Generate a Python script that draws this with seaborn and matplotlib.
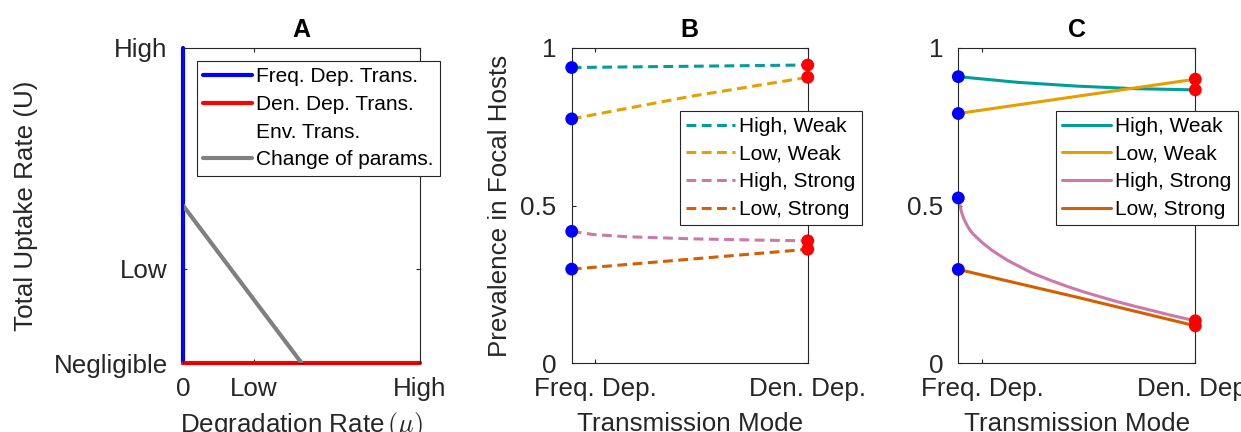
import matplotlib
matplotlib.use('Agg')
import matplotlib.pyplot as plt
from matplotlib.lines import Line2D
import seaborn as sns

# Panel A: uptake rate vs degradation rate (schematic)
freq_x = [0, 0]
freq_y = [0, 1]
den_x = [0, 1]
den_y = [0, 0]
change_x = [0, 0.5]
change_y = [0.5, 0]
a_labels = ['Freq. Dep. Trans.', 'Den. Dep. Trans.', 'Env. Trans.', 'Change of params.']
a_xticks = [0, 0.3, 1]
a_xticklabels = ['0', 'Low', 'High']
a_yticks = [0, 0.3, 1]
a_yticklabels = ['Negligible', 'Low', 'High']

# Panels B and C: prevalence across transmission modes
series_names = ['High, Weak', 'Low, Weak', 'High, Strong', 'Low, Strong']
series_colors = ['#009E99', '#E69F00', '#CC79A7', '#D55E00']
mode_ticks = [0.1, 1]
mode_labels = ['Freq. Dep.', 'Den. Dep.']
prev_ticks = [0, 0.5, 1]
prev_ticklabels = ['0', '0.5', '1']

# panel B (dashed)
b_x_high_weak = [0, 1]
b_y_high_weak = [0.938, 0.946]
b_x_low_weak = [0, 0.5, 1]
b_y_low_weak = [0.775, 0.846, 0.907]
b_x_high_strong = [0, 0.09, 0.23, 0.52, 0.8, 1]
b_y_high_strong = [0.418, 0.408, 0.401, 0.394, 0.390, 0.388]
b_x_low_strong = [0, 1]
b_y_low_strong = [0.298, 0.361]

# panel C (solid)
c_x_high_weak = [0, 0.25, 0.5, 0.74, 1]
c_y_high_weak = [0.909, 0.891, 0.879, 0.871, 0.867]
c_x_low_weak = [0, 1]
c_y_low_weak = [0.792, 0.901]
c_x_high_strong = [0, 0.004, 0.008, 0.014, 0.021, 0.028, 0.038, 0.049, 0.062, 0.077, 0.09,
                   0.106, 0.14, 0.176, 0.21, 0.246, 0.31, 0.387, 0.46, 0.528, 0.6, 0.669,
                   0.74, 0.81, 0.9, 1]
c_y_high_strong = [0.524, 0.51, 0.497, 0.478, 0.463, 0.45, 0.436, 0.422, 0.41, 0.399, 0.39,
                   0.379, 0.359, 0.341, 0.325, 0.311, 0.286, 0.263, 0.243, 0.226, 0.21, 0.195,
                   0.181, 0.168, 0.151, 0.134]
c_x_low_strong = [0, 0.5, 1]
c_y_low_strong = [0.297, 0.209, 0.118]

sns.set_theme(style='ticks')
ink = '#262626'
plt.rcParams['font.family'] = ['Liberation Sans', 'DejaVu Sans']
plt.rcParams.update({
    'mathtext.fontset': 'cm',
    'axes.edgecolor': ink,
    'axes.labelcolor': ink,
    'xtick.color': ink,
    'ytick.color': ink,
    'xtick.direction': 'in',
    'ytick.direction': 'in',
    'xtick.top': True,
    'ytick.right': True,
    'axes.linewidth': 0.8,
})

fig = plt.figure(figsize=(12.41, 4.32), dpi=100)
ax_a = fig.add_axes([0.1475, 0.1597, 0.1910, 0.7292])
ax_b = fig.add_axes([0.4607, 0.1597, 0.1902, 0.7292])
ax_c = fig.add_axes([0.7722, 0.1597, 0.1910, 0.7292])

tick_size = 18.7
label_size = 18.7


def style_axes(ax, title):
    ax.set_title(title, fontsize=18, fontweight='bold', color='black', pad=8)
    ax.tick_params(labelsize=tick_size, length=3, width=0.8)
    ax.tick_params(axis='x', pad=10)
    ax.tick_params(axis='y', pad=11)
    for s in ax.spines.values():
        s.set_visible(True)
        s.set_color(ink)


def make_legend(ax, handles, labels, anchor):
    leg = ax.legend(handles, labels, loc='upper left', bbox_to_anchor=anchor,
                    fontsize=15, frameon=True, fancybox=False, edgecolor=ink,
                    framealpha=1, borderpad=0.3, labelspacing=0.42,
                    handlelength=2.35, handletextpad=0.2, borderaxespad=0)
    leg.get_frame().set_linewidth(0.8)
    for t in leg.get_texts():
        t.set_color('black')
    return leg


# ---- Panel A
sns.lineplot(x=freq_x, y=freq_y, color='#0000FF', linewidth=3, sort=False,
             estimator=None, clip_on=False, ax=ax_a)
sns.lineplot(x=den_x, y=den_y, color='#FF0000', linewidth=3, sort=False,
             estimator=None, clip_on=False, ax=ax_a)
sns.lineplot(x=change_x, y=change_y, color='#808080', linewidth=3, sort=False,
             estimator=None, ax=ax_a)
ax_a.set_xlim(0, 1)
ax_a.set_ylim(0, 1)
ax_a.set_xticks(a_xticks)
ax_a.set_xticklabels(a_xticklabels)
ax_a.set_yticks(a_yticks)
ax_a.set_yticklabels(a_yticklabels)
style_axes(ax_a, 'A')
ax_a.set_xlabel(r'Degradation Rate$\,(\mu)$', fontsize=label_size)
ax_a.set_ylabel('Total Uptake Rate (U)', fontsize=label_size)
ax_a.xaxis.set_label_coords(0.5, -0.15)
ax_a.yaxis.set_label_coords(-0.612, 0.5)
a_lines = ax_a.get_lines()
a_handles = [a_lines[0], a_lines[1], Line2D([], [], color='none'), a_lines[2]]
make_legend(ax_a, a_handles, a_labels, (0.059, 0.959))


# ---- Panels B and C
def prevalence_panel(ax, xs, ys, title, linestyle, legend_anchor, ylabel=None):
    handles = []
    for x, y, name, col in zip(xs, ys, series_names, series_colors):
        sns.lineplot(x=x, y=y, color=col, linewidth=2.2, linestyle=linestyle,
                     sort=False, estimator=None, ax=ax)
        handles.append(ax.get_lines()[-1])
    starts = [y[0] for y in ys]
    ends = [y[-1] for y in ys]
    sns.scatterplot(x=[xs[0][0]] * len(starts), y=starts, color='#0000FF', s=85,
                    edgecolor='none', clip_on=False, zorder=4, ax=ax)
    sns.scatterplot(x=[xs[0][-1]] * len(ends), y=ends, color='#FF0000', s=85,
                    edgecolor='none', clip_on=False, zorder=4, ax=ax)
    ax.set_xlim(0, 1)
    ax.set_ylim(0, 1)
    ax.set_xticks(mode_ticks)
    ax.set_xticklabels(mode_labels)
    ax.set_yticks(prev_ticks)
    ax.set_yticklabels(prev_ticklabels)
    style_axes(ax, title)
    ax.set_xlabel('Transmission Mode', fontsize=label_size)
    ax.xaxis.set_label_coords(0.5, -0.155)
    if ylabel:
        ax.set_ylabel(ylabel, fontsize=label_size)
        ax.yaxis.set_label_coords(-0.254, 0.5)
    else:
        ax.set_ylabel('')
    make_legend(ax, handles, series_names, legend_anchor)


prevalence_panel(ax_b,
                 [b_x_high_weak, b_x_low_weak, b_x_high_strong, b_x_low_strong],
                 [b_y_high_weak, b_y_low_weak, b_y_high_strong, b_y_low_strong],
                 'B', (0, (3.2, 1.8)), (0.459, 0.801),
                 ylabel='Prevalence in Focal Hosts')
prevalence_panel(ax_c,
                 [c_x_high_weak, c_x_low_weak, c_x_high_strong, c_x_low_strong],
                 [c_y_high_weak, c_y_low_weak, c_y_high_strong, c_y_low_strong],
                 'C', '-', (0.411, 0.801))

fig.savefig('out.png', dpi=100)
